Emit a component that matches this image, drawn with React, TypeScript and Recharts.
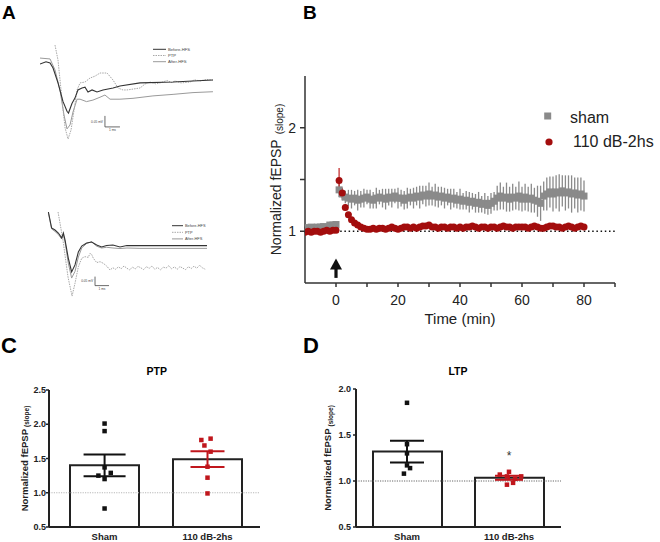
import React from 'react';
import {
  ComposedChart,
  LineChart,
  Line,
  Scatter,
  Bar,
  XAxis,
  YAxis,
  ErrorBar,
  ReferenceLine,
  ReferenceDot,
} from 'recharts';

const FONT = '"Liberation Sans", Arial, Helvetica, sans-serif';

// ---------------- Panel A: example traces (t in ms, v in mV) ----------------
const traceNames = ['Before-HFS', 'PTP', 'After-HFS'];

const topBefore: [number, number][] = [
  [0, 0.0], [0.4, 0.01], [0.67, 0.005], [0.87, -0.018], [1.2, -0.086], [1.53, -0.17], [1.8, -0.215],
  [1.9, -0.223], [2.13, -0.18], [2.33, -0.155], [2.53, -0.118], [2.8, -0.109], [3.0, -0.105],
  [3.2, -0.127], [3.47, -0.118], [3.8, -0.127], [4.2, -0.118], [4.87, -0.109], [5.33, -0.1],
  [6.67, -0.086], [8.87, -0.082], [11.53, -0.073],
];
const topPTP: [number, number][] = [
  [1.0, 0.086], [1.2, 0.018], [1.47, -0.164], [1.67, -0.29], [1.87, -0.341], [2.07, -0.3],
  [2.27, -0.209], [2.47, -0.118], [2.67, -0.086], [3.0, -0.082], [3.33, -0.064], [3.67, -0.055],
  [4.0, -0.041], [4.47, -0.041], [4.87, -0.073], [5.2, -0.109], [5.53, -0.118], [5.8, -0.118],
  [6.2, -0.114], [6.67, -0.109], [7.0, -0.091], [7.33, -0.082], [7.7, -0.09], [8.0, -0.086],
  [8.47, -0.075], [8.8, -0.085], [9.0, -0.077], [9.4, -0.086], [10.0, -0.082], [10.3, -0.072],
  [10.67, -0.077], [11.1, -0.07], [11.53, -0.073],
];
const topAfter: [number, number][] = [
  [0, 0.027], [0.67, 0.023], [1.0, -0.027], [1.33, -0.118], [1.6, -0.232], [1.8, -0.295],
  [2.0, -0.277], [2.2, -0.218], [2.47, -0.16], [2.67, -0.16], [3.1, -0.171], [3.53, -0.164],
  [4.0, -0.151], [4.33, -0.141], [4.67, -0.16], [5.33, -0.16], [6.2, -0.156], [7.53, -0.145],
  [8.87, -0.138], [10.2, -0.13], [11.53, -0.126],
];
const botBefore: [number, number][] = [
  [0.6, 0.0], [0.83, -0.089], [1.07, -0.1], [1.31, -0.117], [1.55, -0.144], [1.67, -0.117],
  [1.79, -0.156], [2.02, -0.256], [2.26, -0.333], [2.5, -0.294], [2.74, -0.222], [2.98, -0.189],
  [3.33, -0.172], [3.69, -0.167], [4.05, -0.183], [4.4, -0.194], [4.76, -0.186], [5.21, -0.183],
  [5.71, -0.194], [6.21, -0.186], [7.14, -0.187], [11.93, -0.187],
];
const botPTP: [number, number][] = [
  [1.29, 0.0], [1.64, -0.156], [2.0, -0.361], [2.29, -0.467], [2.5, -0.396], [2.74, -0.304],
  [2.98, -0.257], [3.21, -0.248], [3.45, -0.252], [3.57, -0.23], [3.69, -0.236], [3.81, -0.257],
  [4.05, -0.281], [4.29, -0.276], [4.52, -0.285], [4.76, -0.3], [5.0, -0.322], [5.2, -0.31],
  [5.4, -0.318], [5.6, -0.305], [5.8, -0.315], [6.0, -0.3], [6.2, -0.312], [6.4, -0.322],
  [6.6, -0.306], [6.8, -0.316], [7.0, -0.302], [7.2, -0.31], [7.4, -0.32], [7.6, -0.304],
  [7.8, -0.313], [8.0, -0.3], [8.2, -0.318], [8.4, -0.308], [8.6, -0.322], [8.8, -0.306],
  [9.0, -0.312], [9.2, -0.298], [9.4, -0.316], [9.6, -0.305], [9.8, -0.318], [10.0, -0.303],
  [10.2, -0.312], [10.4, -0.32], [10.6, -0.304], [10.8, -0.314], [11.0, -0.301], [11.2, -0.312],
  [11.4, -0.296], [11.6, -0.31], [11.8, -0.318],
];
const botAfter: [number, number][] = [
  [0.6, -0.006], [0.83, -0.094], [1.07, -0.108], [1.31, -0.125], [1.55, -0.15], [1.67, -0.128],
  [1.79, -0.167], [2.02, -0.283], [2.26, -0.367], [2.5, -0.33], [2.74, -0.25], [2.98, -0.2],
  [3.33, -0.175], [3.69, -0.165], [4.05, -0.19], [4.4, -0.2], [4.76, -0.196], [5.21, -0.2],
  [5.71, -0.203], [6.21, -0.2], [7.14, -0.202], [11.93, -0.202],
];
const scaleBarMs = 1;
const scaleBarMv = 0.05;
const scaleBarText = ['0.05 mV', '1 ms'];

// ---------------- Panel B: time course ----------------
const seriesNames = ['sham', '110 dB-2hs'];
const timeMin = [
  -10, -9, -8, -7, -6, -5, -4, -3, -2, -1, 0,
  1, 2, 3, 4, 5, 6, 7, 8, 9, 10,
  11, 12, 13, 14, 15, 16, 17, 18, 19, 20,
  21, 22, 23, 24, 25, 26, 27, 28, 29, 30,
  31, 32, 33, 34, 35, 36, 37, 38, 39, 40,
  41, 42, 43, 44, 45, 46, 47, 48, 49, 50,
  51, 52, 53, 54, 55, 56, 57, 58, 59, 60,
  61, 62, 63, 64, 65, 66, 67, 68, 69, 70,
  71, 72, 73, 74, 75, 76, 77, 78, 79, 80,
];
const shamMean = [
  1.035, 1.03, 1.04, 1.035, 1.04, 1.04, 1.045, 1.04, 1.06, 1.06, 1.065,
  1.40, 1.36, 1.33, 1.32, 1.31, 1.32, 1.30, 1.31, 1.32, 1.33,
  1.31, 1.30, 1.32, 1.33, 1.32, 1.31, 1.33, 1.32, 1.34, 1.32,
  1.32, 1.30, 1.32, 1.33, 1.32, 1.34, 1.33, 1.35, 1.34, 1.36,
  1.34, 1.35, 1.33, 1.34, 1.32, 1.33, 1.31, 1.32, 1.30, 1.31,
  1.29, 1.30, 1.28, 1.29, 1.27, 1.28, 1.26, 1.27, 1.25, 1.27,
  1.29, 1.32, 1.34, 1.32, 1.33, 1.31, 1.33, 1.32, 1.34, 1.31,
  1.33, 1.31, 1.32, 1.30, 1.29, 1.27, 1.34, 1.36, 1.38, 1.36,
  1.38, 1.37, 1.39, 1.37, 1.38, 1.36, 1.37, 1.35, 1.36, 1.34,
];
const shamSem = [
  0.01, 0.012, 0.01, 0.015, 0.012, 0.01, 0.014, 0.012, 0.015, 0.016, 0.02,
  0.07, 0.06, 0.06, 0.08, 0.09, 0.07, 0.1, 0.08, 0.09, 0.07,
  0.09, 0.08, 0.1, 0.07, 0.09, 0.1, 0.08, 0.09, 0.07, 0.1,
  0.08, 0.09, 0.1, 0.08, 0.1, 0.09, 0.11, 0.09, 0.1, 0.11,
  0.09, 0.11, 0.1, 0.09, 0.1, 0.08, 0.1, 0.09, 0.08, 0.1,
  0.08, 0.09, 0.1, 0.08, 0.09, 0.1, 0.08, 0.1, 0.09, 0.1,
  0.09, 0.12, 0.13, 0.11, 0.14, 0.12, 0.13, 0.11, 0.14, 0.12,
  0.13, 0.12, 0.14, 0.12, 0.15, 0.17, 0.14, 0.16, 0.15, 0.17,
  0.16, 0.18, 0.15, 0.17, 0.16, 0.18, 0.15, 0.17, 0.16, 0.15,
];
const noiseMean = [
  0.99, 1.0, 0.99, 1.0, 1.0, 0.99, 1.0, 1.01, 1.0, 1.01, 1.01,
  1.49, 1.37, 1.23, 1.16, 1.11, 1.08, 1.06, 1.04, 1.03, 1.02,
  1.02, 1.03, 1.02, 1.03, 1.03, 1.02, 1.03, 1.04, 1.03, 1.02,
  1.03, 1.04, 1.04, 1.03, 1.04, 1.03, 1.04, 1.05, 1.05, 1.06,
  1.04, 1.04, 1.03, 1.04, 1.04, 1.03, 1.04, 1.04, 1.03, 1.04,
  1.03, 1.04, 1.04, 1.05, 1.04, 1.03, 1.04, 1.04, 1.03, 1.04,
  1.04, 1.03, 1.04, 1.05, 1.04, 1.04, 1.03, 1.04, 1.04, 1.04,
  1.04, 1.03, 1.04, 1.05, 1.04, 1.03, 1.03, 1.04, 1.05, 1.05,
  1.04, 1.04, 1.03, 1.04, 1.05, 1.04, 1.03, 1.04, 1.05, 1.04,
];
const noiseSem = [
  0.01, 0.01, 0.01, 0.01, 0.01, 0.01, 0.01, 0.01, 0.01, 0.01, 0.01,
  0.12, 0.05, 0.03, 0.02, 0.02, 0.02, 0.01, 0.01, 0.01, 0.01,
  0.01, 0.01, 0.01, 0.01, 0.01, 0.01, 0.01, 0.01, 0.01, 0.01,
  0.01, 0.01, 0.01, 0.01, 0.01, 0.01, 0.01, 0.01, 0.01, 0.01,
  0.01, 0.01, 0.01, 0.01, 0.01, 0.01, 0.01, 0.01, 0.01, 0.01,
  0.01, 0.01, 0.01, 0.01, 0.01, 0.01, 0.01, 0.01, 0.01, 0.01,
  0.01, 0.01, 0.01, 0.01, 0.01, 0.01, 0.01, 0.01, 0.01, 0.01,
  0.01, 0.01, 0.01, 0.01, 0.01, 0.01, 0.01, 0.01, 0.01, 0.01,
  0.01, 0.01, 0.01, 0.01, 0.01, 0.01, 0.01, 0.01, 0.01, 0.01,
];
const hfsTime = 0;
const arrowLevel = 0.646;
const baselineLevel = 1;
const bXTicks = [0, 10, 20, 30, 40, 50, 60, 70, 80, 90];
const bYTicks = [1, 1.5, 2];

// ---------------- Panels C & D: summary bars ----------------
const groups = ['Sham', '110 dB-2hs'];
const groupPos = [0.5, 1.5];
const ptpMean = [1.4, 1.49];
const ptpSem = [0.16, 0.115];
const ptpSham = [2.01, 1.9, 1.37, 1.25, 1.29, 1.2, 0.77];
const ptpShamJitter = [0, 0, 0, -0.06, 0.06, 0, 0];
const ptpNoise = [1.77, 1.79, 1.69, 1.6, 1.38, 1.22, 0.99];
const ptpNoiseJitter = [-0.06, 0.03, -0.03, 0.03, 0, 0, 0];
const ltpMean = [1.32, 1.035];
const ltpSem = [0.118, 0.022];
const ltpSham = [1.85, 1.4, 1.3, 1.17, 1.14, 1.08];
const ltpShamJitter = [0, 0, 0, 0, 0.03, -0.03];
const ltpNoise = [1.07, 1.1, 1.05, 1.05, 1.025, 0.98, 0.96];
const ltpNoiseJitter = [-0.09, 0, -0.02, 0.12, 0.06, 0.04, -0.02];
const ltpStarLevel = 1.28;
const cTicks = [0.5, 1.0, 1.5, 2.0, 2.5];
const dTicks = [0.5, 1.0, 1.5, 2.0];

const GRAY = '#8a8a8a';
const DARKRED = '#a30d0d';
const RED = '#c0161c';
const INK = '#222';

const toPts = (arr: [number, number][]) => arr.map(([t, v]) => ({ t, v }));

const RotLabel = (props: any) => {
  const { viewBox, px, main, sub, fs, subFs, gap, subDy, weight } = props;
  const vb = viewBox || { y: 0, height: 0 };
  const y = vb.y + vb.height / 2;
  const x = px;
  return (
    <text
      x={x}
      y={y}
      transform={`rotate(-90 ${x} ${y})`}
      textAnchor="middle"
      fontFamily={FONT}
      fontSize={fs}
      fontWeight={weight}
      fill={INK}
    >
      <tspan>{main}</tspan>
      <tspan dx={gap} dy={subDy} fontSize={subFs}>
        {sub}
      </tspan>
    </text>
  );
};

function TraceChart(props: {
  before: [number, number][];
  ptp: [number, number][];
  after: [number, number][];
  width: number;
  height: number;
  xDomain: [number, number];
  yDomain: [number, number];
  bar: { t: number; v: number };
  fs: number;
}) {
  const { before, ptp, after, width, height, xDomain, yDomain, bar, fs } = props;
  return (
    <LineChart width={width} height={height} margin={{ top: 0, right: 0, bottom: 0, left: 0 }}>
      <XAxis type="number" dataKey="t" domain={xDomain} hide allowDataOverflow />
      <YAxis type="number" domain={yDomain} hide allowDataOverflow />
      <Line data={toPts(after)} dataKey="v" stroke="#9a9a9a" strokeWidth={1} dot={false} isAnimationActive={false} />
      <Line data={toPts(ptp)} dataKey="v" stroke="#a8a8a8" strokeWidth={1} strokeDasharray="1.5 1" dot={false} isAnimationActive={false} />
      <Line data={toPts(before)} dataKey="v" stroke="#333" strokeWidth={1.1} dot={false} isAnimationActive={false} />
      <ReferenceLine
        segment={[{ x: bar.t, y: bar.v }, { x: bar.t, y: bar.v + scaleBarMv }]}
        stroke="#444"
        strokeWidth={0.8}
        label={{ value: scaleBarText[0], position: 'left', offset: 2, fontSize: fs, fill: '#444', fontFamily: FONT }}
      />
      <ReferenceLine
        segment={[{ x: bar.t, y: bar.v }, { x: bar.t + scaleBarMs, y: bar.v }]}
        stroke="#444"
        strokeWidth={0.8}
        label={{ value: scaleBarText[1], position: 'bottom', offset: 2, fontSize: fs, fill: '#444', fontFamily: FONT }}
      />
    </LineChart>
  );
}

function TraceLegend({ x, y, len, step, fs }: { x: number; y: number; len: number; step: number; fs: number }) {
  const styles = [
    { stroke: '#333', dash: undefined as string | undefined },
    { stroke: '#a8a8a8', dash: '1.5 1' },
    { stroke: '#9a9a9a', dash: undefined as string | undefined },
  ];
  return (
    <g>
      {traceNames.map((n, i) => (
        <g key={n}>
          <line x1={x} x2={x + len} y1={y + i * step} y2={y + i * step} stroke={styles[i].stroke} strokeWidth={1} strokeDasharray={styles[i].dash} />
          <text x={x + len + 2} y={y + i * step + fs * 0.36} fontSize={fs} fontFamily={FONT} fill="#444">
            {n}
          </text>
        </g>
      ))}
    </g>
  );
}

const SquareShape = (color: string, s: number) => (p: any) =>
  p.cx == null ? <g /> : <rect x={p.cx - s / 2} y={p.cy - s / 2} width={s} height={s} fill={color} />;
const CircleShape = (color: string, r: number) => (p: any) =>
  p.cx == null ? <g /> : <circle cx={p.cx} cy={p.cy} r={r} fill={color} />;
const NoShape = () => <g />;

const ArrowShape = (p: any) => {
  const { cx, cy } = p;
  if (cx == null) return <g />;
  return (
    <g fill="#111">
      <polygon points={`${cx},${cy - 9.5} ${cx - 6},${cy + 1.5} ${cx + 6},${cy + 1.5}`} />
      <rect x={cx - 1.6} y={cy + 1} width={3.2} height={9} />
    </g>
  );
};

function SummaryChart(props: {
  width: number;
  height: number;
  margin: { top: number; right: number; bottom: number; left: number };
  catPadding: { left: number; right: number };
  xDomain: [number, number];
  yDomain: [number, number];
  ticks: number[];
  mean: number[];
  sem: number[];
  sham: number[];
  shamJ: number[];
  noise: number[];
  noiseJ: number[];
  capHalf: [number, number];
  labelX: number;
  refColor: string;
  tickMargin: number;
  star?: number;
}) {
  const p = props;
  const bars = groups.map((g, i) => ({ name: g, x: groupPos[i], mean: p.mean[i], sem: p.sem[i] }));
  const shamPts = p.sham.map((v, i) => ({ x: groupPos[0] + p.shamJ[i], y: v }));
  const noisePts = p.noise.map((v, i) => ({ x: groupPos[1] + p.noiseJ[i], y: v }));
  return (
    <ComposedChart width={p.width} height={p.height} margin={p.margin} data={bars}>
      <XAxis
        type="category"
        dataKey="name"
        padding={p.catPadding}
        tickLine={false}
        tickSize={4}
        tickMargin={2}
        height={15}
        axisLine={{ stroke: INK, strokeWidth: 2 }}
        tick={{ fontSize: 9.5, fontWeight: 700, fill: INK, fontFamily: FONT }}
        interval={0}
      />
      <XAxis xAxisId="n" type="number" dataKey="x" domain={p.xDomain} allowDataOverflow hide />
      <YAxis
        type="number"
        domain={p.yDomain}
        allowDataOverflow
        ticks={p.ticks}
        tickFormatter={(v: number) => v.toFixed(1)}
        width={40}
        tickSize={3}
        tickMargin={p.tickMargin}
        axisLine={{ stroke: INK, strokeWidth: 2 }}
        tickLine={{ stroke: INK, strokeWidth: 1.5 }}
        tick={{ fontSize: 9, fontWeight: 700, fill: INK, fontFamily: FONT }}
        interval={0}
        label={<RotLabel px={p.labelX} main="Normalized fEPSP" sub="(slope)" fs={9.5} subFs={6.5} gap={2} subDy={1.5} weight={700} />}
      />
      <Bar dataKey="mean" barSize={69} fill="#fff" stroke={INK} strokeWidth={2} isAnimationActive={false} />
      <ReferenceLine y={1} stroke={p.refColor} strokeDasharray="1.2 1.2" strokeWidth={1} />
      <Scatter xAxisId="n" data={[bars[0]]} dataKey="mean" shape={NoShape} isAnimationActive={false}>
        <ErrorBar dataKey="sem" direction="y" width={p.capHalf[0]} stroke="#111" strokeWidth={2} />
      </Scatter>
      <Scatter xAxisId="n" data={[bars[1]]} dataKey="mean" shape={NoShape} isAnimationActive={false}>
        <ErrorBar dataKey="sem" direction="y" width={p.capHalf[1]} stroke={RED} strokeWidth={2} />
      </Scatter>
      <Scatter xAxisId="n" data={shamPts} dataKey="y" shape={SquareShape('#111', 4.5)} isAnimationActive={false} />
      <Scatter xAxisId="n" data={noisePts} dataKey="y" shape={SquareShape(RED, 4.5)} isAnimationActive={false} />
      {p.star != null ? (
        <ReferenceDot
          xAxisId="n"
          x={groupPos[1]}
          y={p.star}
          r={0}
          fill="none"
          stroke="none"
          label={{ value: '*', position: 'center', fontSize: 12, fill: '#333', fontFamily: FONT }}
        />
      ) : null}
    </ComposedChart>
  );
}

export default function App() {
  const shamRows = timeMin.map((t, i) => ({ t, v: shamMean[i], e: shamSem[i] }));
  const noiseRows = timeMin.map((t, i) => ({ t, v: noiseMean[i], e: noiseSem[i] }));

  return (
    <div
      style={{
        position: 'absolute',
        left: 0,
        top: 0,
        width: 660,
        height: 542,
        background: '#fff',
        overflow: 'hidden',
        fontFamily: FONT,
      }}
    >
      {/* Panel A traces */}
      <div style={{ position: 'absolute', left: 40, top: 42 }}>
        <TraceChart
          before={topBefore}
          ptp={topPTP}
          after={topAfter}
          width={180}
          height={110}
          xDomain={[0, 12]}
          yDomain={[-0.4, 0.1]}
          bar={{ t: 4.33, v: -0.286 }}
          fs={3.2}
        />
      </div>
      <div style={{ position: 'absolute', left: 40, top: 203 }}>
        <TraceChart
          before={botBefore}
          ptp={botPTP}
          after={botAfter}
          width={182}
          height={108}
          xDomain={[0, 13]}
          yDomain={[-0.55, 0.05]}
          bar={{ t: 3.93, v: -0.409 }}
          fs={3.2}
        />
      </div>

      {/* Panel B */}
      <div style={{ position: 'absolute', left: 220, top: 0 }}>
        <ComposedChart width={440} height={330} margin={{ top: 76, right: 45, bottom: 17, left: 45 }}>
          <XAxis
            type="number"
            dataKey="t"
            domain={[-10, 90]}
            allowDataOverflow
            ticks={bXTicks}
            interval={0}
            tickFormatter={(v: number) => (v % 20 === 0 ? String(v) : '')}
            height={30}
            tickSize={4}
            tickMargin={8}
            axisLine={{ stroke: '#333', strokeWidth: 1.5 }}
            tickLine={{ stroke: '#333', strokeWidth: 1.5 }}
            tick={{ fontSize: 14, fill: INK, fontFamily: FONT }}
            label={{ value: 'Time (min)', position: 'bottom', offset: 0, fontSize: 15, fill: INK, fontFamily: FONT }}
          />
          <YAxis
            type="number"
            domain={[0.5, 2.5]}
            allowDataOverflow
            ticks={bYTicks}
            interval={0}
            tickFormatter={(v: number) => (Number.isInteger(v) ? String(v) : '')}
            width={40}
            tickSize={5}
            tickMargin={4}
            axisLine={{ stroke: '#333', strokeWidth: 1.5 }}
            tickLine={{ stroke: '#333', strokeWidth: 1.5 }}
            tick={{ fontSize: 14, fill: INK, fontFamily: FONT }}
            label={<RotLabel px={61} main="Normalized fEPSP" sub="(slope)" fs={14} subFs={10} gap={5} subDy={2} weight={400} />}
          />
          <ReferenceLine
            segment={[{ x: hfsTime, y: baselineLevel }, { x: 90, y: baselineLevel }]}
            stroke="#111"
            strokeWidth={1.6}
            strokeDasharray="1.5 2.7"
          />
          <Scatter data={shamRows} dataKey="v" shape={SquareShape(GRAY, 7)} isAnimationActive={false}>
            <ErrorBar dataKey="e" direction="y" width={0} stroke={GRAY} strokeWidth={1.3} />
          </Scatter>
          <Scatter data={noiseRows} dataKey="v" shape={CircleShape(DARKRED, 3.5)} isAnimationActive={false}>
            <ErrorBar dataKey="e" direction="y" width={0} stroke="#c02020" strokeWidth={1.2} />
          </Scatter>
          <ReferenceDot x={hfsTime} y={arrowLevel} r={6} shape={ArrowShape} />
        </ComposedChart>
      </div>

      {/* Panel C */}
      <div style={{ position: 'absolute', left: 0, top: 380 }}>
        <SummaryChart
          width={280}
          height={162}
          margin={{ top: 10, right: 20, bottom: 0, left: 9 }}
          catPadding={{ left: 4, right: 1 }}
          xDomain={[-0.04, 2.01]}
          yDomain={[0.5, 2.5]}
          ticks={cTicks}
          mean={ptpMean}
          sem={ptpSem}
          sham={ptpSham}
          shamJ={ptpShamJitter}
          noise={ptpNoise}
          noiseJ={ptpNoiseJitter}
          capHalf={[21, 17]}
          labelX={27.5}
          refColor="#b8b8b8"
          tickMargin={0}
        />
      </div>

      {/* Panel D */}
      <div style={{ position: 'absolute', left: 310, top: 380 }}>
        <SummaryChart
          width={270}
          height={162}
          margin={{ top: 9, right: 19, bottom: 0, left: 6 }}
          catPadding={{ left: 0, right: 1 }}
          xDomain={[0, 2.01]}
          yDomain={[0.5, 2.0]}
          ticks={dTicks}
          mean={ltpMean}
          sem={ltpSem}
          sham={ltpSham}
          shamJ={ltpShamJitter}
          noise={ltpNoise}
          noiseJ={ltpNoiseJitter}
          capHalf={[17, 14]}
          labelX={21}
          refColor="#666"
          tickMargin={2}
          star={ltpStarLevel}
        />
      </div>

      {/* Overlay: panel letters, titles, legends */}
      <svg width={660} height={542} style={{ position: 'absolute', left: 0, top: 0, pointerEvents: 'none' }}>
        <g fontFamily={FONT} fontWeight={700} fill="#000">
          <text x={2} y={18.5} fontSize={19}>A</text>
          <text x={303} y={18.5} fontSize={19}>B</text>
          <text x={1} y={353} fontSize={22}>C</text>
          <text x={303} y={353} fontSize={22}>D</text>
          <text x={156.7} y={374.8} fontSize={10.5} textAnchor="middle">PTP</text>
          <text x={458} y={374.8} fontSize={10.5} textAnchor="middle">LTP</text>
        </g>
        <TraceLegend x={153} y={49.3} len={13} step={6.2} fs={4.2} />
        <TraceLegend x={172} y={225.7} len={11} step={6.6} fs={3.9} />
        <g fontFamily={FONT} fontSize={16} fill={INK}>
          <rect x={544.2} y={112.5} width={7} height={7} fill={GRAY} />
          <text x={570} y={122.5}>{seriesNames[0]}</text>
          <circle cx={549} cy={142} r={3.6} fill={DARKRED} />
          <text x={573} y={147}>{seriesNames[1]}</text>
        </g>
      </svg>
    </div>
  );
}
